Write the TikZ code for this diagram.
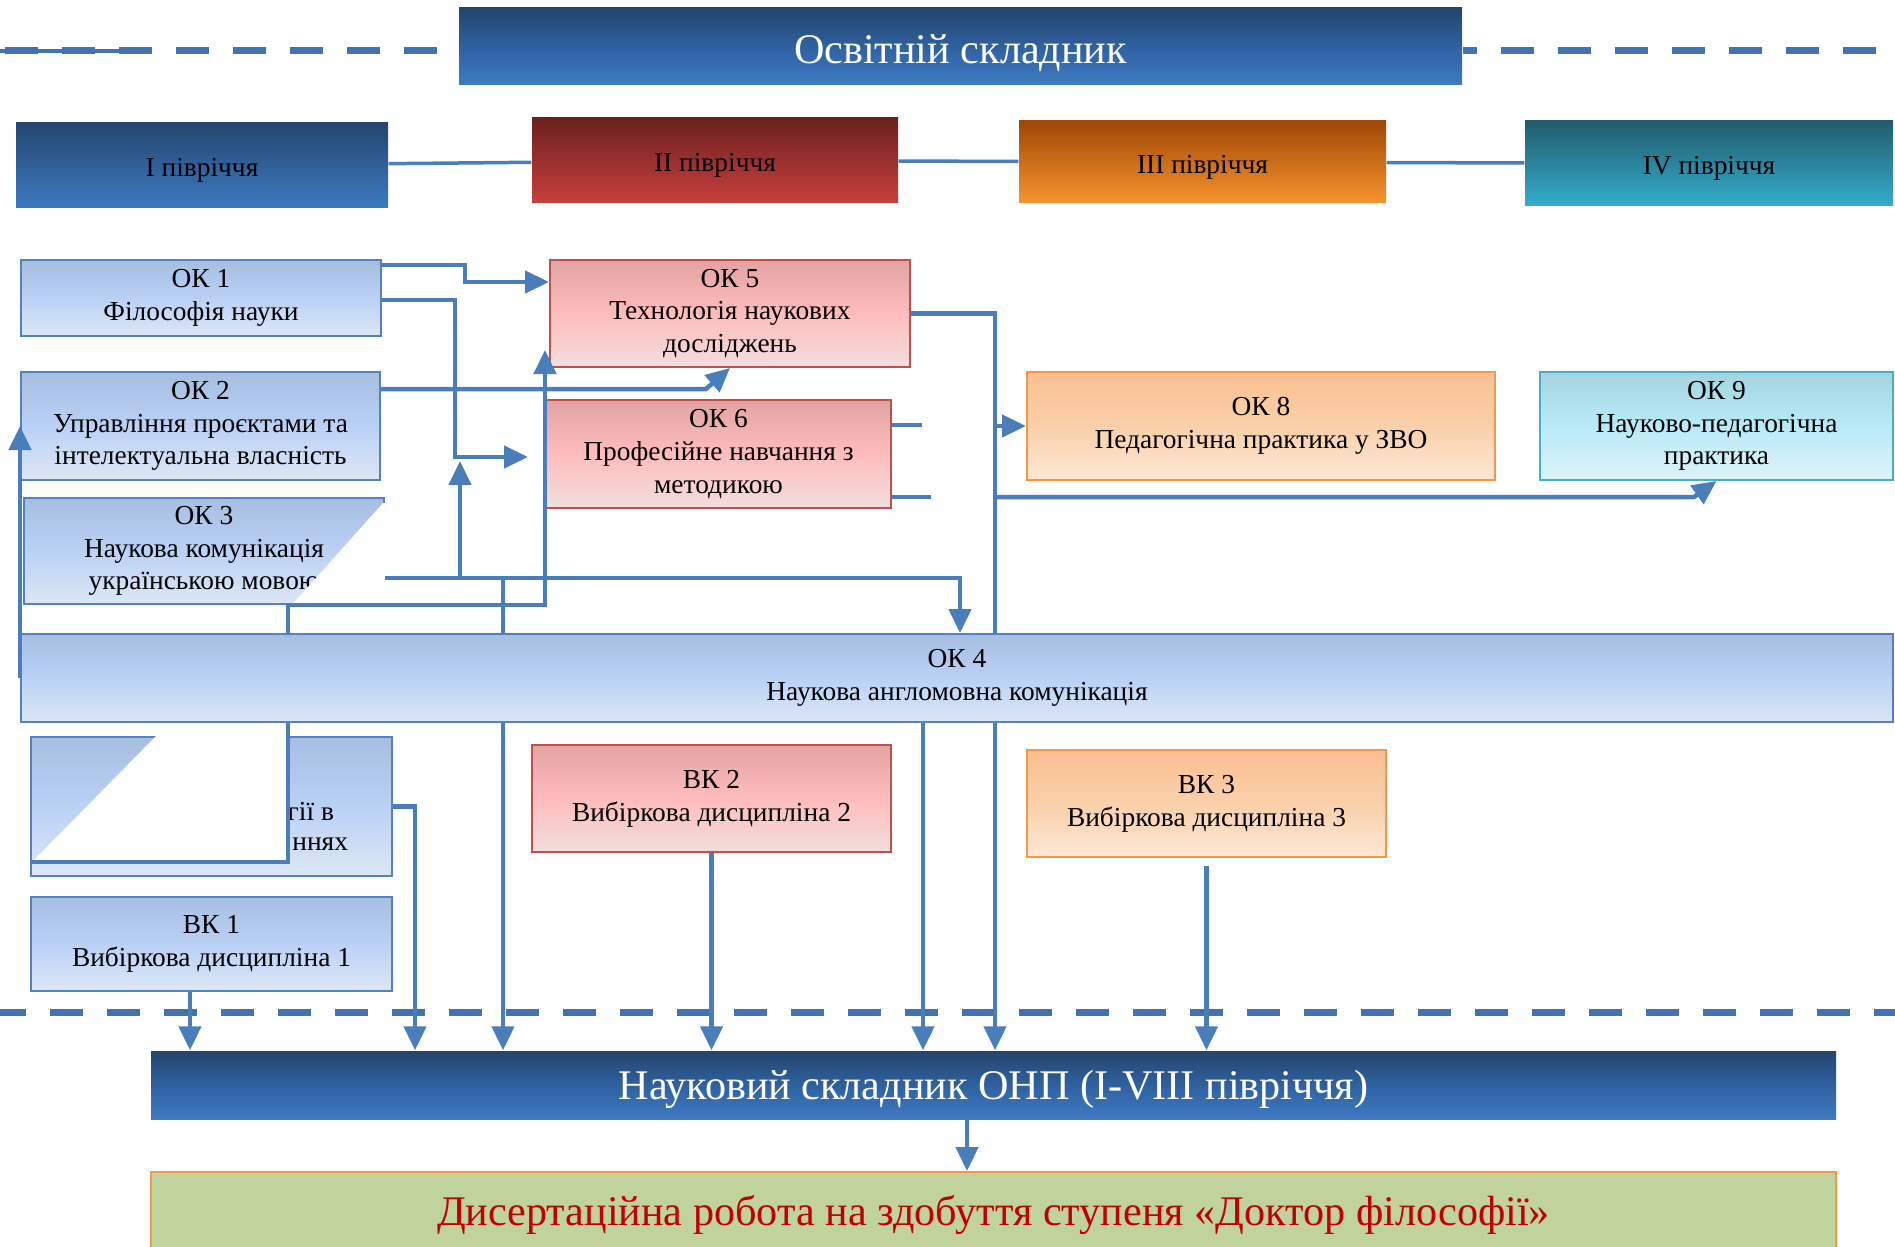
\documentclass[tikz,border=0pt]{standalone}
\usepackage{fontspec}
\setmainfont{Liberation Serif}
\usepackage{tikz}
\usetikzlibrary{arrows.meta,positioning,calc}

\definecolor{linkblue}{RGB}{74,126,187}
\definecolor{dashblue}{RGB}{66,114,178}
\definecolor{okedge}{RGB}{84,130,192}
\definecolor{oktop}{RGB}{166,190,224}
\definecolor{okmid}{RGB}{186,209,246}
\definecolor{okbot}{RGB}{221,231,245}
\definecolor{rededge}{RGB}{192,80,77}
\definecolor{redtop}{RGB}{226,163,163}
\definecolor{redmid}{RGB}{255,188,188}
\definecolor{redbot}{RGB}{242,222,222}
\definecolor{oredge}{RGB}{247,150,70}
\definecolor{ortop}{RGB}{249,192,145}
\definecolor{ormid}{RGB}{250,208,170}
\definecolor{orbot}{RGB}{252,232,214}
\definecolor{cyedge}{RGB}{75,172,198}
\definecolor{cytop}{RGB}{164,212,226}
\definecolor{cymid}{RGB}{184,234,248}
\definecolor{cybot}{RGB}{223,243,249}
\definecolor{bartop}{RGB}{36,68,108}
\definecolor{barmid}{RGB}{47,97,160}
\definecolor{barbot}{RGB}{62,122,194}
\definecolor{dissfill}{RGB}{192,211,156}
\definecolor{disstext}{RGB}{192,0,0}

\tikzset{
   >={Triangle[length=2.4mm,width=2.2mm]},
   link/.style={draw=linkblue, line width=0.45mm},
   arrow/.style={link, ->},
   divider/.style={draw=dashblue, line width=0.7mm, dash pattern=on 3.3mm off 2.4mm},
   semlink/.style={draw=linkblue, line width=0.35mm}
}
\tikzstyle{box} = [rectangle, align=center, inner sep=0pt, line width=0.2mm,
    font=\fontsize{7.8}{9.3}\selectfont]
\tikzstyle{bluebox} = [box, draw=okedge, top color=oktop, bottom color=okbot, middle color=okmid]
\tikzstyle{redbox} = [box, draw=rededge, top color=redtop, bottom color=redbot, middle color=redmid]
\tikzstyle{orangebox} = [box, draw=oredge, top color=ortop, bottom color=orbot, middle color=ormid]
\tikzstyle{cyanbox} = [box, draw=cyedge, top color=cytop, bottom color=cybot, middle color=cymid]
\tikzstyle{bar} = [rectangle, inner sep=0pt, text=white, text depth=0mm,
    font=\fontsize{12}{14.4}\selectfont, top color=bartop, bottom color=barbot, middle color=barmid]
\tikzstyle{sem} = [rectangle, inner sep=0pt, minimum height=8.5mm, text height=2.3mm, text depth=0mm,
    font=\fontsize{7.8}{9.3}\selectfont]

\begin{document}
\begin{tikzpicture}[x=0.1mm, y=-0.1mm]
\path[use as bounding box, fill=white] (0,0) rectangle (1895,1246);

% header and semesters
\node[bar, minimum width=100.3mm, minimum height=7.7mm, text height=3.5mm] (head) at (960.5,46.5) {Освітній складник};
\node[sem, minimum width=37.2mm, top color={rgb,255:red,37;green,70;blue,112}, bottom color={rgb,255:red,61;green,122;blue,193}] (sem1) at (202,165.5) {I півріччя};
\node[sem, minimum width=36.6mm, top color={rgb,255:red,108;green,32;blue,32}, bottom color={rgb,255:red,200;green,64;blue,60}] (sem2) at (715,160.5) {II півріччя};
\node[sem, minimum width=36.7mm, minimum height=8.2mm, top color={rgb,255:red,158;green,72;blue,6}, bottom color={rgb,255:red,248;green,148;blue,46}] (sem3) at (1202.5,162) {III півріччя};
\node[sem, minimum width=36.8mm, top color={rgb,255:red,34;green,92;blue,108}, bottom color={rgb,255:red,53;green,173;blue,206}] (sem4) at (1709,163.5) {IV півріччя};

% obligatory components
\node[bluebox, minimum width=36mm, minimum height=7.6mm] (ok1) at (201,298) {ОК 1\\Філософія науки};
\node[redbox, minimum width=36mm, minimum height=10.7mm] (ok5) at (730,313.5) {ОК 5\\Технологія наукових\\досліджень};
\node[bluebox, minimum width=35.9mm, minimum height=10.8mm] (ok2) at (200.5,426) {ОК 2\\Управління проєктами та\\інтелектуальна власність};
\node[redbox, minimum width=34.5mm, minimum height=10.8mm] (ok6) at (718.5,454) {ОК 6\\Професійне навчання з\\методикою};
\node[orangebox, minimum width=46.8mm, minimum height=10.8mm] (ok8) at (1261,426) {ОК 8\\Педагогічна практика у ЗВО};
\node[cyanbox, minimum width=35.3mm, minimum height=10.8mm] (ok9) at (1716.5,426) {ОК 9\\Науково-педагогічна\\практика};
\node[bluebox, minimum width=36mm, minimum height=10.6mm] (ok3) at (204,551) {ОК 3\\Наукова комунікація\\українською мовою};
\node[bluebox, minimum width=187.2mm, minimum height=8.8mm] (ok4) at (957,678) {ОК 4\\Наукова англомовна комунікація};
\node[bluebox, minimum width=36.1mm, minimum height=13.9mm] (ok7) at (211.5,806.5) {};
\node[box, anchor=east] (ok7a) at (335,811) {гії в};
\node[box, anchor=east] (ok7b) at (349,844) {ннях};

% elective components
\node[redbox, minimum width=35.9mm, minimum height=10.7mm] (vk2) at (711.5,798.5) {ВК 2\\Вибіркова дисципліна 2};
\node[orangebox, minimum width=35.9mm, minimum height=10.7mm] (vk3) at (1206.5,803.5) {ВК 3\\Вибіркова дисципліна 3};
\node[bluebox, minimum width=36.1mm, minimum height=9.4mm] (vk1) at (211.5,944) {ВК 1\\Вибіркова дисципліна 1};

% scientific part
\node[bar, minimum width=168.5mm, minimum height=6.8mm, text height=2.9mm] (sci) at (993.5,1085) {Науковий складник ОНП (I-VIII півріччя)};
\node[rectangle, draw=oredge, line width=0.2mm, fill=dissfill, text=disstext, minimum width=168.5mm, minimum height=8.6mm,
      font=\fontsize{12}{14.4}\selectfont] (diss) at (993.5,1215) {Дисертаційна робота на здобуття ступеня «Доктор філософії»};

% white cut-outs
\fill[white] (383,503) -- (389,503) -- (389,607) -- (290,607) -- cycle;
\fill[white] (157,735) -- (289,735) -- (289,862) -- (32,862) -- cycle;

% dashed borders
\draw[divider, dash phase=5.2mm] (0,51) -- (head.west |- 0,51);
\draw[divider, line width=0.45mm, dash phase=2.3mm] (0,51) -- (148,51);
\draw[divider, dash phase=1.9mm] (head.east |- 0,51) -- (1895,51);
\draw[divider, dash phase=0.7mm] (0,1012) -- (1895,1012);

% semesters
\draw[semlink] (sem1) -- (sem2);
\draw[semlink] (sem2) -- (sem3);
\draw[semlink] (sem3) -- (sem4);

% links
\draw[arrow] ([yshift=3.3mm]ok1.east) -| (465,282) -- (ok5.west |- 0,282);
\draw[arrow] ([yshift=-0.2mm]ok1.east) -| (455,457) -- (528,457);
\draw[arrow] ([yshift=3.7mm]ok2.east) -- (706,389) -- (ok5.south);
\draw[arrow] (ok3.east |- 0,578) -- (960,578) -- (960,0 |- ok4.north);
\draw[arrow] (460,578) -- (460,461);
\draw[arrow] (ok4.west) -- (ok4.west |- ok2.center);
\draw[arrow] (288,0 |- ok4.north) -- (288,0 |- ok3.south) -- (545,0 |- ok3.south) -- (545,350);
\draw[link] (288,0 |- ok4.south) -- (288,862) -- (ok7.west |- 0,862);
\draw[link] (503,578) -- (503,0 |- ok4.north);
\draw[arrow] (503,0 |- ok4.south) -- (503,0 |- sci.north);
\draw[arrow] (ok7.east) -| (415,0 |- sci.north);
\draw[arrow] (190,0 |- vk1.south) -- (190,0 |- sci.north);
\draw[arrow] (vk2.south) -- (vk2.south |- sci.north);
\draw[arrow] (923,0 |- ok4.south) -- (923,0 |- sci.north);
\draw[link] (ok5.east) -| (995,0 |- ok4.north);
\draw[arrow] (995,0 |- ok4.south) -- (995,0 |- sci.north);
\draw[arrow] (995,0 |- ok8.west) -- (ok8.west);
\draw[arrow] (995,497) -- (1694,497) -- (ok9.south);
\draw[link] (ok6.east |- 0,425) -- (922,425);
\draw[link] (ok6.east |- 0,497) -- (931,497);
\draw[arrow] ([yshift=-0.8mm]vk3.south) -- (vk3.south |- sci.north);
\draw[arrow] (967,0 |- sci.south) -- (967,0 |- diss.north);
\end{tikzpicture}
\end{document}
